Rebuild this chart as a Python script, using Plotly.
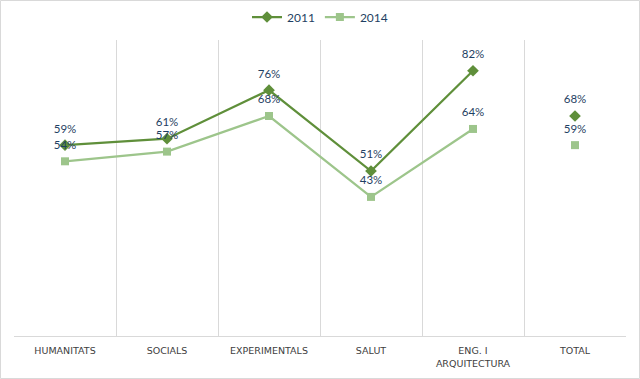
import plotly.graph_objects as go

categories = ["HUMANITATS", "SOCIALS", "EXPERIMENTALS", "SALUT", "ENG. I<br>ARQUITECTURA", "TOTAL"]
v2011 = [0.59, 0.61, 0.76, 0.51, 0.82]
v2014 = [0.54, 0.57, 0.68, 0.43, 0.64]
total2011 = 0.68
total2014 = 0.59

c2011 = "#5F8F3A"
c2014 = "#9DC58B"
txt = "#1F3F63"
lblfont = dict(color=txt, size=11.5, family="Lato")

fig = go.Figure()
fig.add_trace(go.Scatter(
    x=categories[:5], y=v2011, name="2011", mode="lines+markers",
    line=dict(color=c2011, width=2.25), marker=dict(symbol="diamond", size=9, color=c2011)))
fig.add_trace(go.Scatter(
    x=categories[:5], y=v2014, name="2014", mode="lines+markers",
    line=dict(color=c2014, width=2.25), marker=dict(symbol="square", size=8, color=c2014)))
fig.add_trace(go.Scatter(
    x=[categories[5]], y=[total2011], mode="markers", showlegend=False,
    marker=dict(symbol="diamond", size=9, color=c2011)))
fig.add_trace(go.Scatter(
    x=[categories[5]], y=[total2014], mode="markers", showlegend=False,
    marker=dict(symbol="square", size=8, color=c2014)))

# data labels (transparent markers set the label offset)
all2011 = v2011 + [total2011]
all2014 = v2014 + [total2014]
for vals in (all2011, all2014):
    fig.add_trace(go.Scatter(
        x=categories, y=vals, mode="markers+text", showlegend=False, hoverinfo="skip",
        marker=dict(size=14, color="rgba(0,0,0,0)"),
        text=[f"{round(v*100)}%" for v in vals], textposition="top center", textfont=lblfont))

fig.update_layout(
    width=640, height=379,
    margin=dict(l=14, r=14, t=40, b=43, autoexpand=False),
    paper_bgcolor="white", plot_bgcolor="white",
    legend=dict(orientation="h", x=0.5, xanchor="center", xref="container",
                y=1 - 17 / 379, yanchor="middle", yref="container",
                font=dict(color=txt, size=12, family="Lato")),
    xaxis=dict(type="category", tickson="boundaries", showgrid=True, gridcolor="#D9D9D9",
               gridwidth=1, showline=True, linecolor="#D9D9D9", ticks="",
               ticklabelstandoff=6,
               tickfont=dict(color="#404040", size=9.5, family="DejaVu Sans"),
               range=[-0.5, 5.5]),
    yaxis=dict(range=[0, 0.915], visible=False, showgrid=False, zeroline=False),
    shapes=[dict(type="rect", xref="paper", yref="paper",
                 x0=(0.5 - 14) / 612, x1=(639.5 - 14) / 612,
                 y0=(336 - 378.5) / 296, y1=(336 - 0.5) / 296,
                 line=dict(color="#D9D9D9", width=1), fillcolor="rgba(0,0,0,0)")],
)
fig.write_html("out.html", config={"displayModeBar": False},
               post_script="document.body.style.margin='0';")
